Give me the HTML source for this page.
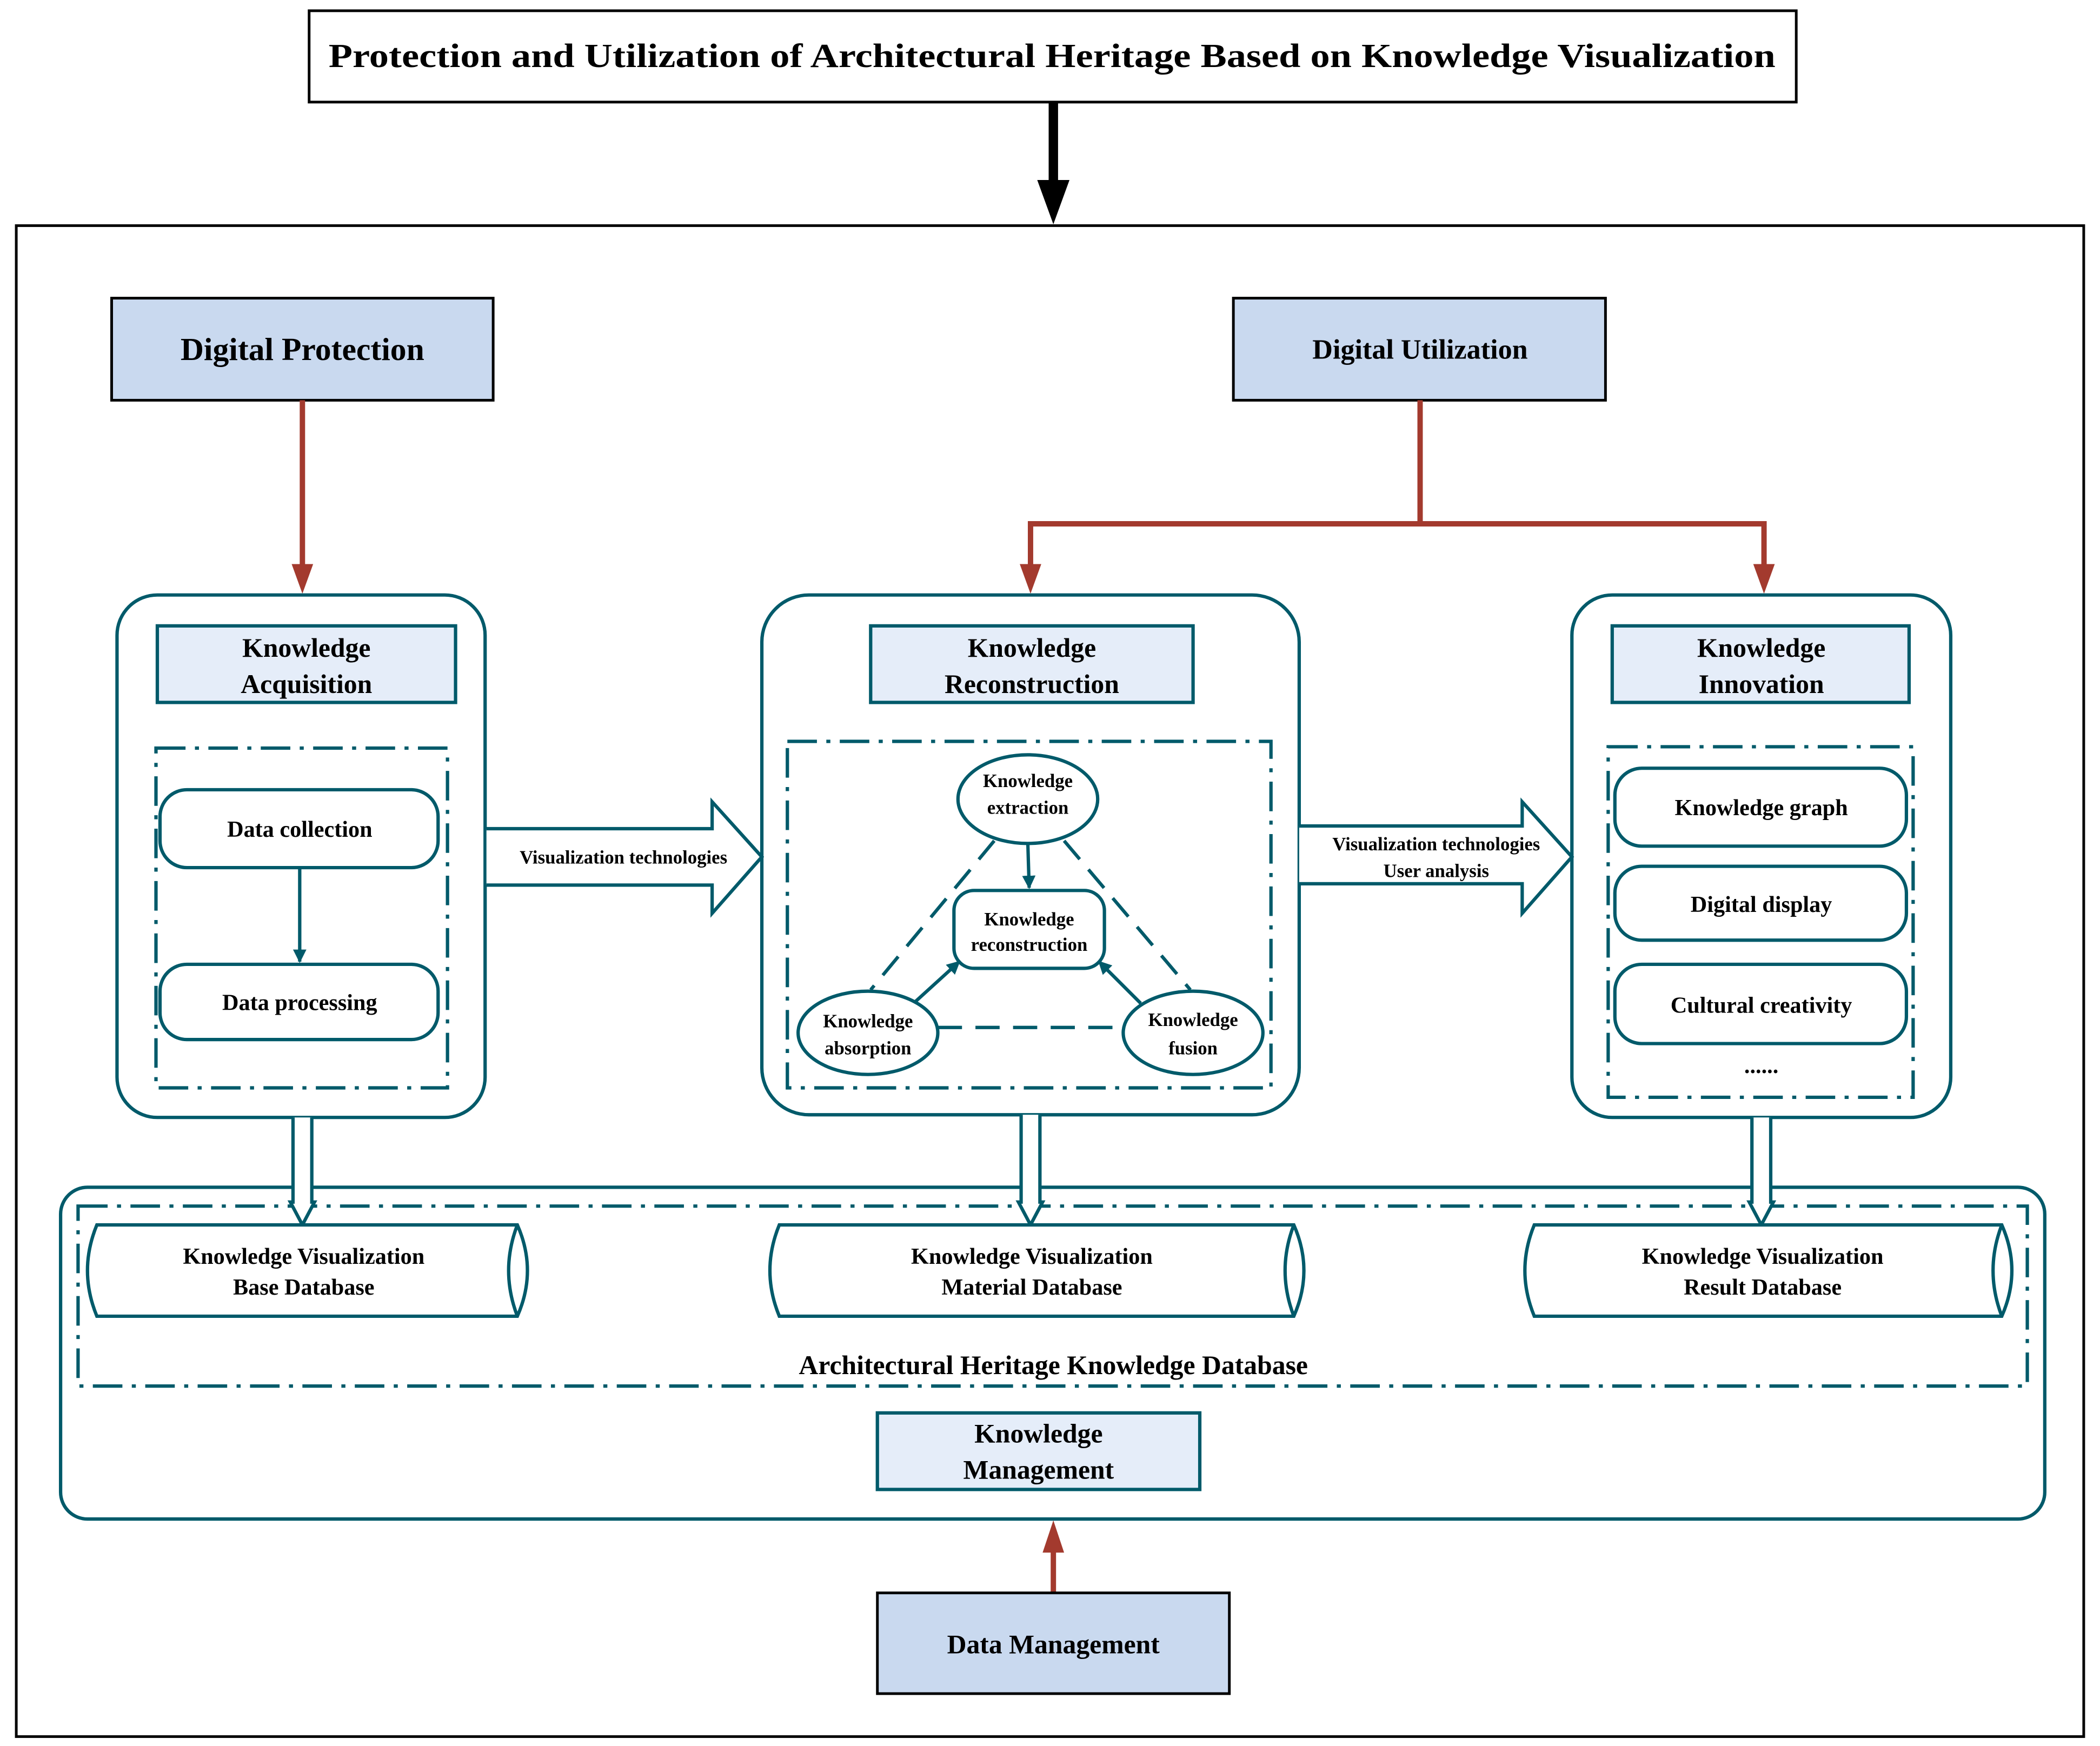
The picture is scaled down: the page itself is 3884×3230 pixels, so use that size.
<!DOCTYPE html>
<html><head><meta charset="utf-8"><style>html,body{margin:0;padding:0;background:#fff}svg{display:block}</style></head><body>
<svg width="3884" height="3230" viewBox="0 0 1563 1300" xmlns="http://www.w3.org/2000/svg" font-family="'Liberation Serif',serif" font-weight="bold">
<defs>
<marker id="ar" markerWidth="10" markerHeight="10" refX="9" refY="5" orient="auto" markerUnits="userSpaceOnUse"><path d="M0,0 L10,5 L0,10 z" fill="#005a6a"/></marker>
</defs>
<rect width="1563" height="1300" fill="#fff"/>
<!-- title -->
<rect x="230" y="8" width="1107" height="68" fill="#fff" stroke="#000" stroke-width="2"/>
<text x="783" y="50" font-size="25" text-anchor="middle" textLength="1077" lengthAdjust="spacingAndGlyphs">Protection and Utilization of Architectural Heritage Based on Knowledge Visualization</text>
<line x1="784" y1="76" x2="784" y2="138" stroke="#000" stroke-width="7"/>
<path d="M772,134 L796,134 L784,167 z" fill="#000"/>
<rect x="12" y="168" width="1539" height="1125" fill="none" stroke="#000" stroke-width="2"/>
<!-- top boxes -->
<rect x="83" y="222" width="284" height="76" fill="#c9d9ef" stroke="#000" stroke-width="2"/>
<text x="225" y="268" font-size="24" text-anchor="middle">Digital Protection</text>
<rect x="918" y="222" width="277" height="76" fill="#c9d9ef" stroke="#000" stroke-width="2"/>
<text x="1057" y="267" font-size="21" text-anchor="middle">Digital Utilization</text>
<!-- red arrows -->
<g stroke="#a33a2e" stroke-width="4" fill="none">
<line x1="225" y1="298" x2="225" y2="425"/>
<polyline points="1057,298 1057,390 767,390 767,425"/>
<polyline points="1057,390 1313,390 1313,425"/>
<line x1="784" y1="1186" x2="784" y2="1152"/>
</g>
<g fill="#a33a2e">
<path d="M217,420 L233,420 L225,442 z"/>
<path d="M759,420 L775,420 L767,442 z"/>
<path d="M1305,420 L1321,420 L1313,442 z"/>
<path d="M776,1156 L792,1156 L784,1132 z"/>
</g>
<g stroke="#005a6a" stroke-width="2.5" fill="none">
<!-- panels -->
<rect x="87" y="443" width="274" height="389" rx="30"/>
<rect x="567" y="443" width="400" height="387" rx="35"/>
<rect x="1170" y="443" width="282" height="389" rx="30"/>
<rect x="45" y="884" width="1477" height="247" rx="20"/>
<g stroke-dasharray="22,7,3,7">
<rect x="116" y="557" width="217" height="253"/>
<rect x="586" y="552" width="360" height="258"/>
<rect x="1197" y="556" width="227" height="261"/>
<rect x="58" y="898" width="1451" height="134"/>
</g>
<!-- panel1 items -->
<rect x="119" y="588" width="207" height="58" rx="20"/>
<rect x="119" y="718" width="207" height="56" rx="20"/>
<line x1="223" y1="646" x2="223" y2="716" marker-end="url(#ar)"/>
<!-- panel2 -->
<ellipse cx="765" cy="595" rx="52" ry="33"/>
<rect x="710" y="663" width="112" height="58" rx="15"/>
<ellipse cx="646" cy="769" rx="52" ry="31"/>
<ellipse cx="888" cy="769" rx="52" ry="31"/>
<g stroke-dasharray="18,10">
<line x1="740" y1="626" x2="648" y2="737"/>
<line x1="792" y1="626" x2="886" y2="737"/>
<line x1="698" y1="765" x2="836" y2="765"/>
</g>
<line x1="765" y1="628" x2="766" y2="661" marker-end="url(#ar)"/>
<line x1="681" y1="746" x2="714" y2="716" marker-end="url(#ar)"/>
<line x1="849" y1="747" x2="818" y2="716" marker-end="url(#ar)"/>
<!-- panel3 -->
<rect x="1202" y="572" width="217" height="58" rx="20"/>
<rect x="1202" y="645" width="217" height="55" rx="20"/>
<rect x="1202" y="718" width="217" height="59" rx="20"/>
<!-- hollow arrows -->
<path d="M362,617 L530,617 L530,597 L567,638 L530,680 L530,659 L362,659" fill="#fff"/>
<path d="M967,615 L1133,615 L1133,597 L1170,638 L1133,680 L1133,658 L967,658" fill="#fff"/>
<path d="M218,832 L218,895 L216,895 L225,912 L234,895 L232,895 L232,832" fill="#fff"/>
<path d="M760,830 L760,895 L758,895 L767,912 L776,895 L774,895 L774,830" fill="#fff"/>
<path d="M1304,832 L1304,895 L1302,895 L1311,912 L1320,895 L1318,895 L1318,832" fill="#fff"/>
<!-- cylinders -->
<path d="M72,912 L385,912 Q400,946 385,980 L72,980 Q58,946 72,912 z M385,912 Q372,946 385,980" fill="#fff"/>
<path d="M580,912 L963,912 Q978,946 963,980 L580,980 Q566,946 580,912 z M963,912 Q950,946 963,980" fill="#fff"/>
<path d="M1142,912 L1490,912 Q1505,946 1490,980 L1142,980 Q1128,946 1142,912 z M1490,912 Q1477,946 1490,980" fill="#fff"/>
</g>
<!-- headers -->
<g fill="#e5edf9" stroke="#005a6a" stroke-width="2.5">
<rect x="117" y="466" width="222" height="57"/>
<rect x="648" y="466" width="240" height="57"/>
<rect x="1200" y="466" width="221" height="57"/>
<rect x="653" y="1052" width="240" height="57"/>
</g>
<rect x="653" y="1186" width="262" height="75" fill="#c9d9ef" stroke="#000" stroke-width="2"/>
<g font-size="20" text-anchor="middle">
<text x="228" y="489">Knowledge</text><text x="228" y="516">Acquisition</text>
<text x="768" y="489">Knowledge</text><text x="768" y="516">Reconstruction</text>
<text x="1311" y="489">Knowledge</text><text x="1311" y="516">Innovation</text>
<text x="773" y="1074">Knowledge</text><text x="773" y="1101">Management</text>
<text x="784" y="1231">Data Management</text>
<text x="784" y="1023">Architectural Heritage Knowledge Database</text>
</g>
<g font-size="17" text-anchor="middle">
<text x="223" y="623">Data collection</text>
<text x="223" y="752">Data processing</text>
<text x="1311" y="607">Knowledge graph</text>
<text x="1311" y="679">Digital display</text>
<text x="1311" y="754">Cultural creativity</text>
<text x="1311" y="799">......</text>
<text x="226" y="941">Knowledge Visualization</text><text x="226" y="964">Base Database</text>
<text x="768" y="941">Knowledge Visualization</text><text x="768" y="964">Material Database</text>
<text x="1312" y="941">Knowledge Visualization</text><text x="1312" y="964">Result Database</text>
</g>
<g font-size="14" text-anchor="middle">
<text x="765" y="586">Knowledge</text><text x="765" y="606">extraction</text>
<text x="766" y="689">Knowledge</text><text x="766" y="708">reconstruction</text>
<text x="646" y="765">Knowledge</text><text x="646" y="785">absorption</text>
<text x="888" y="764">Knowledge</text><text x="888" y="785">fusion</text>
<text x="464" y="643">Visualization technologies</text>
<text x="1069" y="633">Visualization technologies</text>
<text x="1069" y="653">User  analysis</text>
</g>
</svg>
</body></html>
